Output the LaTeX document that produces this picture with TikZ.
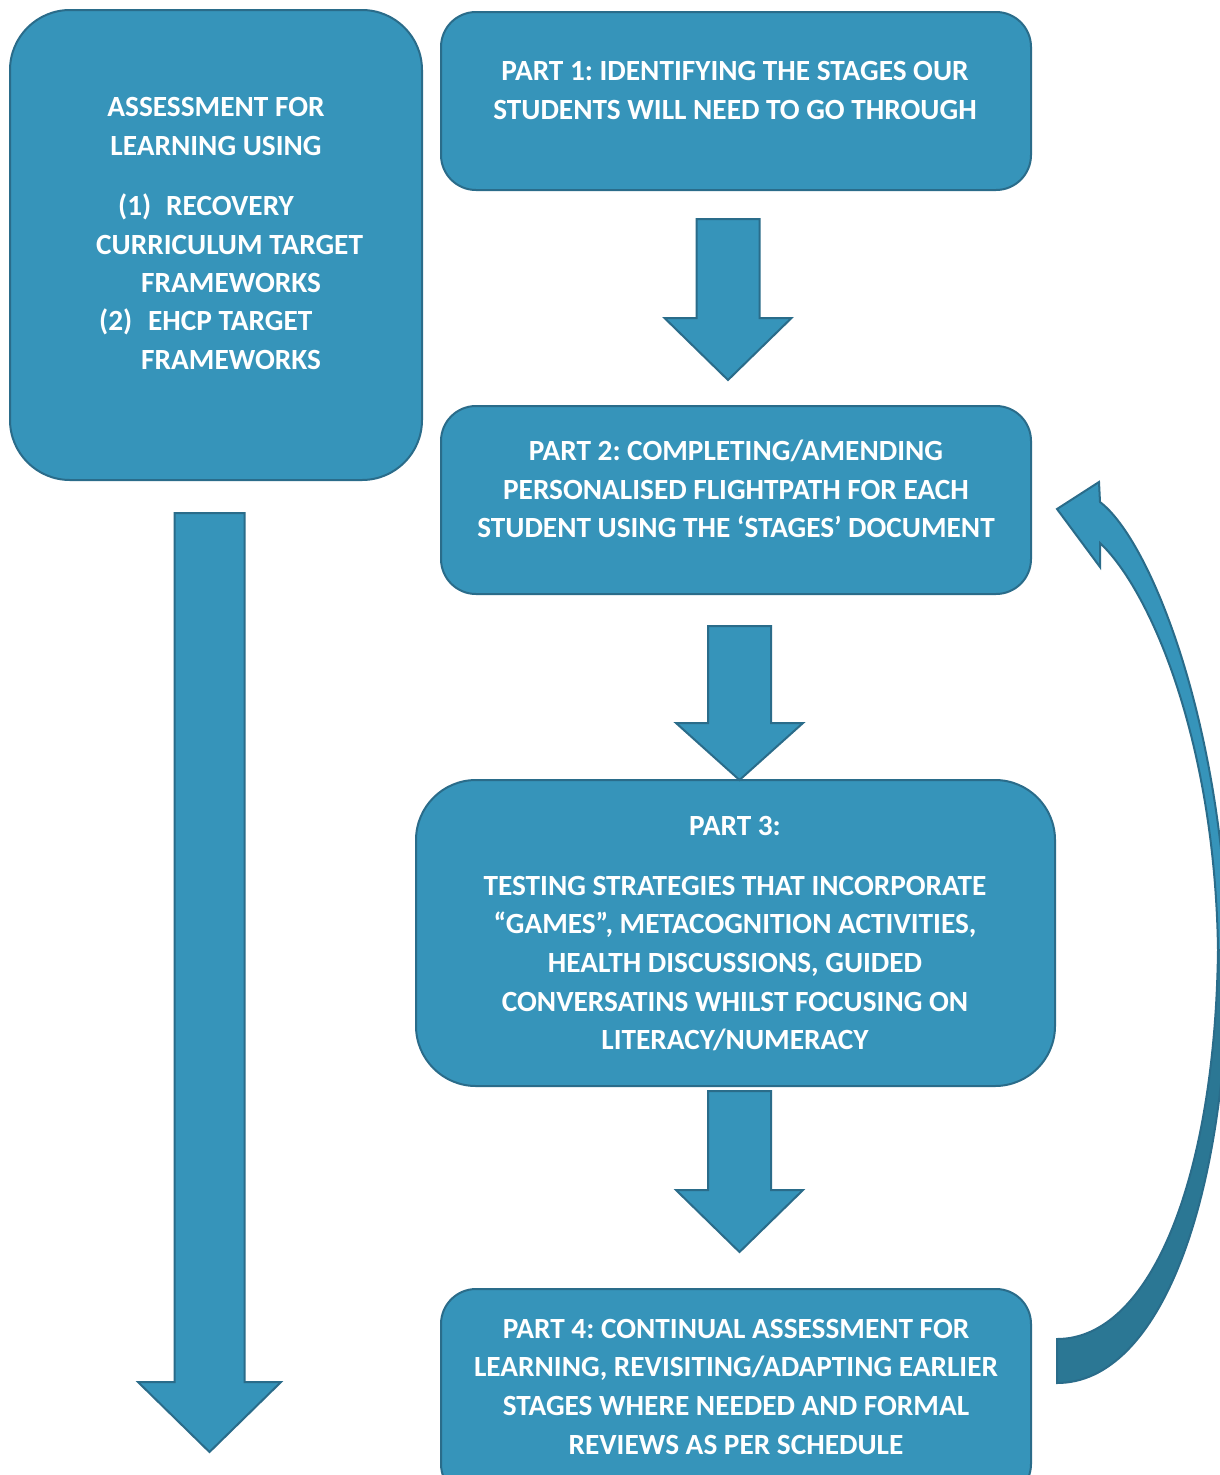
\documentclass[tikz,border=0pt]{standalone}
\usepackage{fontspec}
\setmainfont{Carlito}
\definecolor{fillc}{RGB}{54,148,186}
\definecolor{edgec}{RGB}{42,108,138}
\definecolor{darkc}{RGB}{43,119,148}
\begin{document}
\frenchspacing
\begin{tikzpicture}[x=1pt,y=-1pt,
  box/.style={draw=edgec, line width=2pt, fill=fillc},
  txt/.style={text=white, font=\bfseries\fontsize{29.3}{35}\selectfont, inner sep=0pt, anchor=base},
  txtw/.style={txt, anchor=base west},
  blk/.style={draw=edgec, line width=2pt, fill=fillc, line join=miter}]
\clip (0,0) rectangle (1220,1475);
\fill[white] (0,0) rectangle (1220,1475);
% boxes
\node[box, rounded corners=60pt, minimum width=412pt, minimum height=470pt] (L) at (216,245) {};
\node[box, rounded corners=35pt, minimum width=590pt, minimum height=178pt] (P1) at (736,101) {};
\node[box, rounded corners=35pt, minimum width=590pt, minimum height=188pt] (P2) at (736,500) {};
\node[box, rounded corners=60pt, minimum width=639pt, minimum height=306pt] (P3) at (735.5,933) {};
\node[box, rounded corners=35pt, minimum width=590pt, minimum height=210pt] (P4) at (736,1394) {};
% left text
\node[txt] (La) at (216,116) {ASSESSMENT FOR};
\node[txt] (Lb) at (216,155) {LEARNING USING};
\node[txtw] (Lc1) at (118,215) {(1)};
\node[txtw] (Lc2) at (166,215) {RECOVERY};
\node[txtw] (Ld) at (96,254) {CURRICULUM TARGET};
\node[txtw] (Le) at (141,292) {FRAMEWORKS};
\node[txtw] (Lf1) at (99,330) {(2)};
\node[txtw] (Lf2) at (148,330) {EHCP TARGET};
\node[txtw] (Lg) at (141,369) {FRAMEWORKS};
% part 1
\node[txt] (P1a) at (735,80) {PART 1: IDENTIFYING THE STAGES OUR};
\node[txt] (P1b) at (735,119) {STUDENTS WILL NEED TO GO THROUGH};
% part 2
\node[txt] (P2a) at (736,460) {PART 2: COMPLETING/AMENDING};
\node[txt] (P2b) at (736,499) {PERSONALISED FLIGHTPATH FOR EACH};
\node[txt] (P2c) at (736,537) {STUDENT USING THE ‘STAGES’ DOCUMENT};
% part 3
\node[txt] (P3a) at (735,835) {PART 3:};
\node[txt] (P3b) at (735,895) {TESTING STRATEGIES THAT INCORPORATE};
\node[txt] (P3c) at (735,933) {“GAMES”, METACOGNITION ACTIVITIES,};
\node[txt] (P3d) at (735,972) {HEALTH DISCUSSIONS, GUIDED};
\node[txt] (P3e) at (735,1011) {CONVERSATINS WHILST FOCUSING ON};
\node[txt] (P3f) at (735,1049) {LITERACY/NUMERACY};
% part 4
\node[txt] (P4a) at (736,1338) {PART 4: CONTINUAL ASSESSMENT FOR};
\node[txt] (P4b) at (736,1376) {LEARNING, REVISITING/ADAPTING EARLIER};
\node[txt] (P4c) at (736,1415) {STAGES WHERE NEEDED AND FORMAL};
\node[txt] (P4d) at (736,1454) {REVIEWS AS PER SCHEDULE};
% block arrows
\draw[blk] (696.5,219) -- (759.5,219) -- (759.5,318) -- (791.5,318) -- (728,380) -- (664.5,318) -- (696.5,318) -- cycle;
\draw[blk] (708,626) -- (771,626) -- (771,723) -- (803,723) -- (739.5,780) -- (676,723) -- (708,723) -- cycle;
\draw[blk] (708,1091) -- (771,1091) -- (771,1190) -- (803,1190) -- (739.5,1252) -- (676,1190) -- (708,1190) -- cycle;
\draw[blk] (174.5,513) -- (244.5,513) -- (244.5,1382) -- (281,1382) -- (209.5,1452) -- (138,1382) -- (174.5,1382) -- cycle;
% curved arrow
\draw[blk, fill=darkc] (1228,950) .. controls (1228,1200) and (1160,1383) .. (1057,1383)
   -- (1057,1339) .. controls (1150,1339) and (1215,1180) .. (1218,950) -- cycle;
\draw[blk] (1057,509) -- (1099,482) -- (1100,502)
   .. controls (1150,540) and (1222,720) .. (1228,950)
   -- (1218,950) .. controls (1215,740) and (1150,590) .. (1100,543)
   -- (1100,567) -- cycle;
\end{tikzpicture}
\end{document}
